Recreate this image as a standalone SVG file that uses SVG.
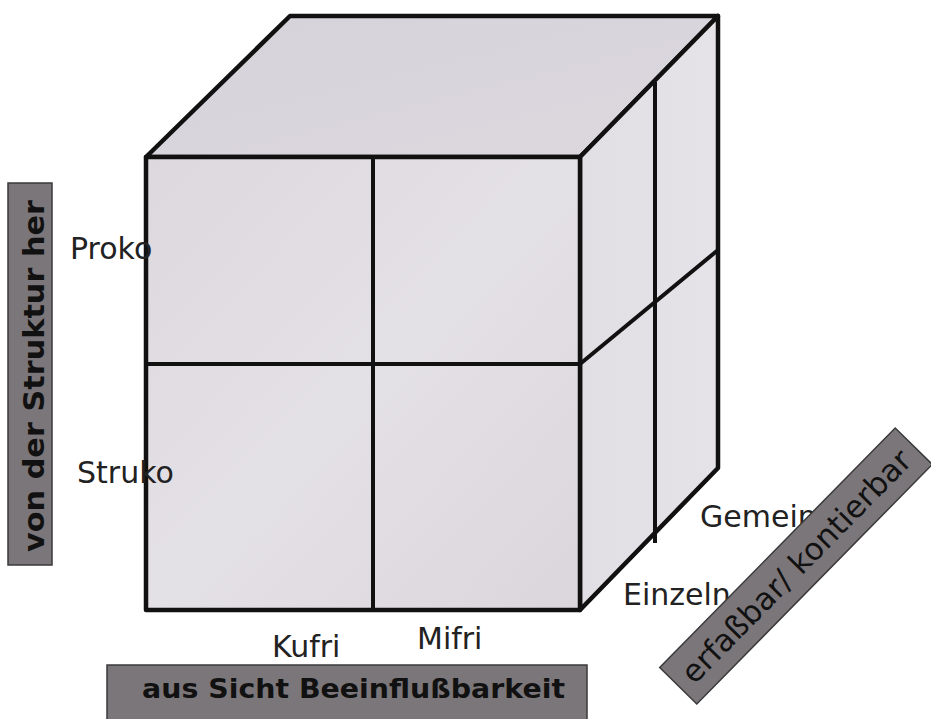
<svg xmlns="http://www.w3.org/2000/svg" width="931" height="719" viewBox="0 0 931 719">
<style>
.face{stroke:#111;stroke-width:4.5;stroke-linejoin:round}
.grid{stroke:#111;stroke-width:4;fill:none}
.lbl{font-family:"DejaVu Sans","Liberation Sans",Arial,sans-serif;font-size:30px;fill:#222}
.box{fill:#7b7679;stroke:#3a3a3a;stroke-width:1.5}
.axis{font-family:"DejaVu Sans","Liberation Sans",Arial,sans-serif;fill:#111}
</style>
<defs>
<linearGradient id="gf" x1="0" y1="0" x2="1" y2="1">
<stop offset="0" stop-color="#dcd8de"/><stop offset="0.5" stop-color="#e4e1e6"/><stop offset="1" stop-color="#dad6dc"/>
</linearGradient>
<linearGradient id="gt" x1="0" y1="0" x2="1" y2="1">
<stop offset="0" stop-color="#d6d2da"/><stop offset="1" stop-color="#dcd8de"/>
</linearGradient>
<linearGradient id="gr" x1="0" y1="0" x2="1" y2="0">
<stop offset="0" stop-color="#e2dfe4"/><stop offset="1" stop-color="#e6e3e8"/>
</linearGradient>
</defs>
<rect width="931" height="719" fill="#ffffff"/>
<g id="cube">
<polygon class="face" fill="url(#gt)" points="146,157 290,16 718,16 580,157"/>
<polygon class="face" fill="url(#gr)" points="580,157 718,16 718,468 580,610"/>
<rect class="face" fill="url(#gf)" x="146" y="157" width="434" height="453"/>
<line class="grid" x1="373" y1="157" x2="373" y2="612"/>
<line class="grid" x1="146" y1="364" x2="580" y2="364"/>
<line class="grid" x1="580" y1="364" x2="718" y2="250"/>
<line class="grid" x1="655" y1="82" x2="655" y2="543"/>
</g>
<g id="labels">
<text class="lbl" x="70" y="259">Proko</text>
<text class="lbl" x="77" y="483">Struko</text>
<text class="lbl" x="272" y="657">Kufri</text>
<text class="lbl" x="417" y="649">Mifri</text>
<text class="lbl" x="700" y="527">Gemein</text>
<text class="lbl" x="623" y="605">Einzeln</text>
</g>
<g id="axis-left">
<rect class="box" x="8" y="183" width="44" height="382"/>
<text class="axis" font-size="29" font-weight="bold" transform="translate(44,376) rotate(-90)" text-anchor="middle" textLength="352" lengthAdjust="spacingAndGlyphs">von der Struktur her</text>
</g>
<g id="axis-bottom">
<rect class="box" x="107" y="665" width="480" height="58"/>
<text class="axis" font-size="27" font-weight="bold" x="142" y="698" textLength="423" lengthAdjust="spacingAndGlyphs">aus Sicht Beeinflußbarkeit</text>
</g>
<g id="axis-right">
<g transform="translate(796,566) rotate(-45.5)">
<rect class="box" x="-168" y="-26" width="336" height="52"/>
<text class="axis" font-size="31" x="0" y="11" text-anchor="middle">erfaßbar/ kontierbar</text>
</g>
</g>
</svg>
